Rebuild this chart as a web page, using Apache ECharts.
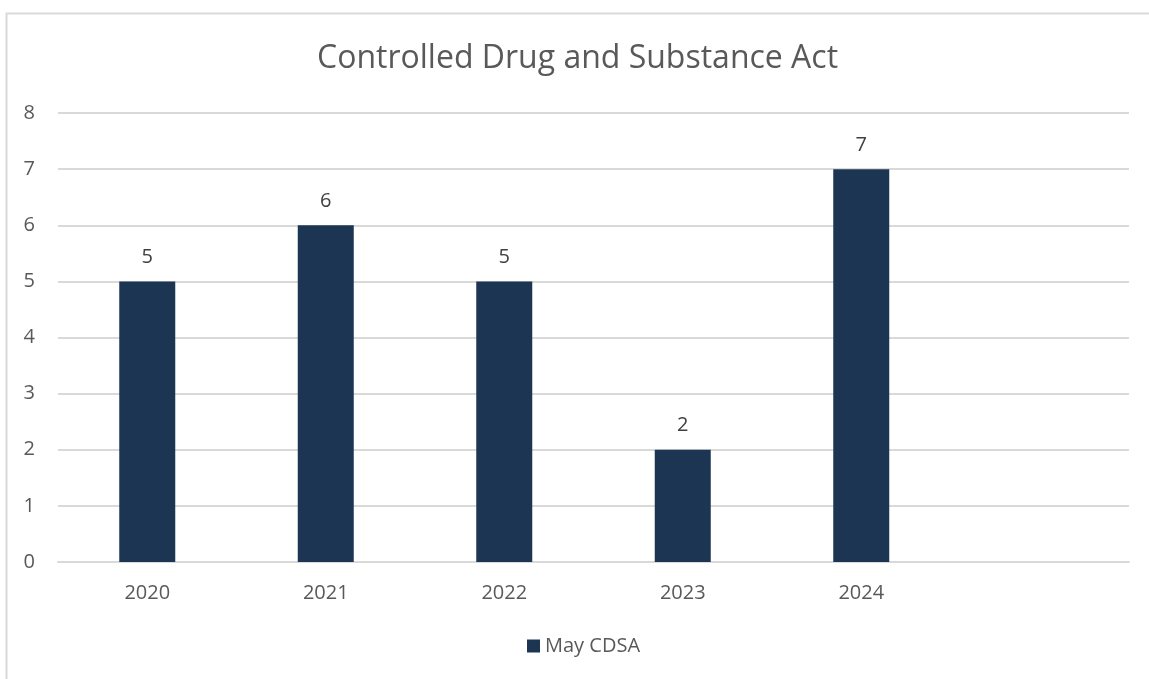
<!DOCTYPE html>
<html>
<head>
<meta charset="utf-8">
<script src="https://cdn.jsdelivr.net/npm/echarts@6/dist/echarts.min.js"></script>
<style>html,body{margin:0;padding:0;background:#fff}#c{width:1149px;height:679px}</style>
</head>
<body>
<div id="c"></div>
<script>
const categories = ['2020', '2021', '2022', '2023', '2024', ''];
const mayCDSA = [5, 6, 5, 2, 7, null];
const yTicks = [0, 1, 2, 3, 4, 5, 6, 7, 8];

const chart = echarts.init(document.getElementById('c'));
const font = "'Open Sans', 'Noto Sans', sans-serif";
chart.setOption({
  animation: false,
  backgroundColor: '#fff',
  graphic: [{
    type: 'rect',
    shape: { x: 6.5, y: 13.5, width: 1200, height: 700 },
    style: { fill: 'none', stroke: '#d9d9d9', lineWidth: 2 },
    silent: true
  }],
  title: {
    text: 'Controlled Drug and Substance Act',
    left: 317,
    top: 43,
    padding: 0,
    textStyle: { fontFamily: font, fontSize: 32, fontWeight: 'normal', color: '#595959' }
  },
  legend: {
    data: ['May CDSA'],
    bottom: 18,
    left: 522,
    itemWidth: 13,
    itemHeight: 13,
    itemGap: 7,
    icon: 'rect',
    textStyle: { fontFamily: font, fontSize: 20, color: '#595959' }
  },
  grid: { left: 58, right: 20, top: 113, bottom: 117 },
  xAxis: {
    type: 'category',
    data: categories,
    axisLine: { show: true, lineStyle: { color: '#d9d9d9', width: 2 } },
    axisTick: { show: false },
    axisLabel: { fontFamily: font, fontSize: 20, color: '#595959', margin: 21 }
  },
  yAxis: {
    type: 'value',
    min: yTicks[0],
    max: yTicks[yTicks.length - 1],
    interval: 1,
    axisLine: { show: false },
    axisTick: { show: false },
    splitLine: { lineStyle: { color: '#d9d9d9', width: 2 } },
    axisLabel: { fontFamily: font, fontSize: 20, color: '#595959', margin: 23 }
  },
  series: [{
    name: 'May CDSA',
    type: 'bar',
    data: mayCDSA,
    barWidth: 56,
    itemStyle: { color: '#1b3553' },
    label: {
      show: true,
      position: 'top',
      distance: 14,
      fontFamily: font,
      fontSize: 20,
      color: '#404040'
    }
  }]
});
</script>
</body>
</html>
